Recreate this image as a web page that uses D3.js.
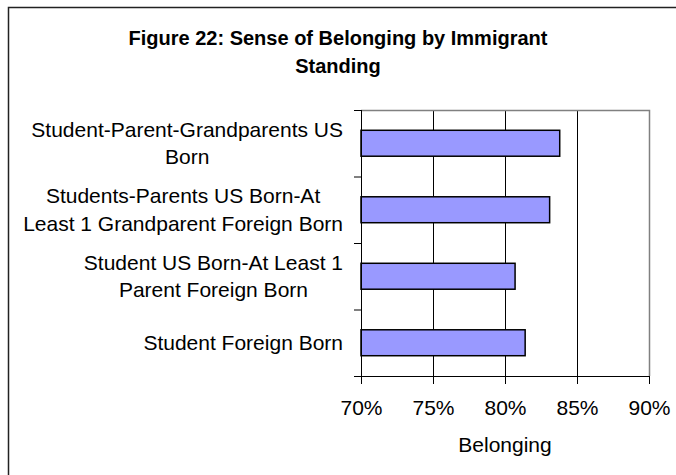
<!DOCTYPE html>
<html>
<head>
<meta charset="utf-8">
<script src="https://cdn.jsdelivr.net/npm/d3@7"></script>
<style>
  body { margin: 0; background: #fff; }
  text { font-family: "Liberation Sans", Arial, sans-serif; fill: #000; }
</style>
</head>
<body>
<div id="chart"></div>
<script>
// data
var categories = [
    ["Student-Parent-Grandparents US", "Born"],
    ["Students-Parents US Born-At", "Least 1 Grandparent Foreign Born"],
    ["Student US Born-At Least 1", "Parent Foreign Born"],
    ["Student Foreign Born"]
];
var belonging = [0.838, 0.831, 0.807, 0.814];
var xTicks = [0.70, 0.75, 0.80, 0.85, 0.90];
var titleLines = ["Figure 22: Sense of Belonging by Immigrant", "Standing"];
var xTitle = "Belonging";

// set the dimensions and margins of the graph
var margin = { top: 110, left: 361 },
    width = 288,
    height = 266;

var root = d3.select("#chart")
    .append("svg")
    .attr("width", 676)
    .attr("height", 475);

// outer frame (only top and left visible)
root.append("rect")
    .attr("x", 8.5).attr("y", 7.5)
    .attr("width", 700).attr("height", 500)
    .attr("fill", "none")
    .attr("stroke", "#222")
    .attr("stroke-width", 1.5);

// title
root.append("text")
    .attr("x", 338)
    .attr("y", 45)
    .attr("text-anchor", "middle")
    .style("font-size", "20px")
    .style("font-weight", "bold")
    .selectAll("tspan")
    .data(titleLines)
    .enter().append("tspan")
    .attr("x", 338)
    .attr("dy", function (d, i) { return i ? 28 : 0; })
    .text(function (d) { return d; });

var svg = root.append("g")
    .attr("transform", "translate(" + margin.left + "," + margin.top + ")");

var keys = categories.map(function (d) { return d.join(" "); });

// scales
var x = d3.scaleLinear()
    .domain([0.70, 0.90])
    .range([0, width]);

var y = d3.scaleBand()
    .domain(keys)
    .range([0, height])
    .paddingInner(0.61)
    .paddingOuter(0.305);

// category boundaries for the y ticks
var yEdge = d3.scaleLinear()
    .domain([0, keys.length])
    .range([0, height]);

// gridlines
svg.append("g")
    .selectAll("line")
    .data(xTicks.slice(1, -1))
    .enter().append("line")
    .attr("x1", function (d) { return Math.round(x(d)) + 0.5; })
    .attr("x2", function (d) { return Math.round(x(d)) + 0.5; })
    .attr("y1", 0)
    .attr("y2", height)
    .attr("stroke", "#000");

// plot border, top and right
svg.append("path")
    .attr("d", "M0,0.5H" + (width + 0.5) + "V" + height)
    .attr("fill", "none")
    .attr("stroke", "#808080")
    .attr("stroke-width", 1.5);

// bars
svg.append("g")
    .selectAll("rect")
    .data(belonging)
    .enter().append("rect")
    .attr("x", x(0.70))
    .attr("y", function (d, i) { return y(keys[i]); })
    .attr("width", function (d) { return x(d) - x(0.70); })
    .attr("height", y.bandwidth())
    .attr("fill", "#9999ff")
    .attr("stroke", "#000")
    .attr("stroke-width", 1.5);

// X axis
var xAxis = svg.append("g")
    .attr("transform", "translate(0," + height + ")")
    .call(d3.axisBottom(x).tickValues(xTicks).tickSize(8).tickPadding(13)
        .tickFormat(d3.format(".0%")));
xAxis.select(".domain").remove();
xAxis.selectAll("line").attr("stroke", "#000");
xAxis.selectAll("text")
    .style("font-size", "21px")
    .attr("dy", "0.85em")
    .style("font-family", "'Liberation Sans', Arial, sans-serif");

// Y axis with ticks at the category edges
var yAxis = svg.append("g")
    .call(d3.axisLeft(yEdge).tickValues(d3.range(keys.length + 1)).tickSize(7).tickFormat(""));
yAxis.select(".domain").remove();
yAxis.selectAll("line").attr("stroke", "#000");

// axis lines
svg.append("line")
    .attr("x1", 0.5).attr("x2", 0.5)
    .attr("y1", 0).attr("y2", height)
    .attr("stroke", "#000");
svg.append("line")
    .attr("x1", -7).attr("x2", width)
    .attr("y1", height + 0.5).attr("y2", height + 0.5)
    .attr("stroke", "#000");

// category labels, lines centred with each other, block right aligned
var labels = svg.append("g")
    .selectAll("text")
    .data(categories)
    .enter().append("text")
    .attr("text-anchor", "middle")
    .style("font-size", "21px");

labels.each(function (lines, i) {
    var t = d3.select(this);
    var n = lines.length;
    var cy = y(keys[i]) + y.bandwidth() / 2;
    lines.forEach(function (s, j) {
        t.append("tspan")
            .attr("y", cy + (j - (n - 1) / 2) * 27.5)
            .attr("dy", "0.35em")
            .text(s);
    });
    var w = d3.max(t.selectAll("tspan").nodes(), function (n) { return n.getComputedTextLength(); });
    t.selectAll("tspan").attr("x", -18 - w / 2);
});

// x axis title
svg.append("text")
    .attr("x", width / 2)
    .attr("y", 342)
    .attr("text-anchor", "middle")
    .style("font-size", "21px")
    .text(xTitle);
</script>
</body>
</html>
